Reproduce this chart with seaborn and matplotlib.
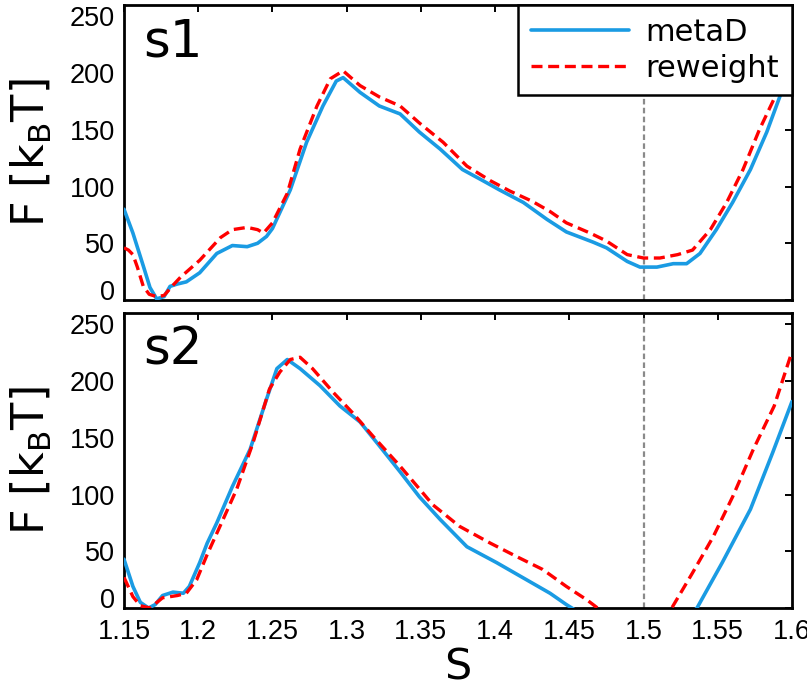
import numpy as np
import pandas as pd
import matplotlib
matplotlib.use("Agg")
import matplotlib.pyplot as plt
import seaborn as sns

# s1 panel: metaD and reweight free-energy profiles
s1_meta_x = [1.150, 1.156, 1.163, 1.1675, 1.172, 1.177, 1.181, 1.1857, 1.192, 1.201,
             1.2125, 1.223, 1.233, 1.240, 1.246, 1.250, 1.262, 1.273, 1.284, 1.293,
             1.2976, 1.309, 1.322, 1.336, 1.349, 1.363, 1.378, 1.392, 1.403, 1.419,
             1.435, 1.448, 1.466, 1.475, 1.489, 1.4976, 1.509, 1.520, 1.529, 1.538,
             1.549, 1.560, 1.572, 1.583, 1.592, 1.600]
s1_meta_F = [80, 59, 30, 11, 1, 3, 12, 14, 16, 24,
             41, 48, 47, 50, 56, 63, 97, 139, 171, 193,
             196, 183, 171, 164, 148, 133, 115, 105, 97, 86,
             71, 60, 51, 46, 34, 29, 29, 32, 32, 41,
             62, 86, 115, 148, 180, 205]

s1_rew_x = [1.150, 1.153, 1.156, 1.159, 1.163, 1.167, 1.172, 1.177, 1.183, 1.188,
            1.201, 1.215, 1.223, 1.233, 1.240, 1.244, 1.250, 1.260, 1.2686, 1.280,
            1.289, 1.2976, 1.309, 1.322, 1.336, 1.349, 1.365, 1.381, 1.397, 1.410,
            1.425, 1.437, 1.448, 1.464, 1.475, 1.489, 1.500, 1.511, 1.523, 1.533,
            1.545, 1.556, 1.567, 1.578, 1.590, 1.600]
s1_rew_F = [46, 44, 40, 29, 12, 5, 3, 4, 13, 20,
            35, 55, 62, 64, 62, 59, 68, 94, 133, 171,
            195, 202, 189, 179, 171, 156, 139, 118, 105, 96,
            87, 78, 68, 59, 52, 40, 37, 37, 40, 44,
            62, 86, 115, 150, 183, 210]

# s2 panel
s2_meta_x = [1.150, 1.156, 1.161, 1.1665, 1.171, 1.176, 1.183, 1.190, 1.194, 1.201,
             1.206, 1.2125, 1.223, 1.235, 1.246, 1.253, 1.260, 1.2686, 1.282, 1.2955,
             1.309, 1.322, 1.336, 1.349, 1.363, 1.381, 1.401, 1.421, 1.437, 1.448,
             1.470, 1.500, 1.520, 1.536, 1.553, 1.572, 1.587, 1.600]
s2_meta_F = [43, 19, 5, 0, 3, 11, 14, 13, 19, 40,
             57, 75, 107, 140, 184, 211, 219, 211, 196, 178,
             164, 143, 120, 98, 78, 54, 40, 25, 13, 3,
             -15, -30, -20, 0, 40, 87, 137, 182]

s2_rew_x = [1.150, 1.156, 1.161, 1.1675, 1.176, 1.186, 1.192, 1.199, 1.206, 1.215,
            1.226, 1.237, 1.248, 1.255, 1.262, 1.2686, 1.277, 1.291, 1.304, 1.318,
            1.336, 1.349, 1.358, 1.376, 1.397, 1.415, 1.432, 1.448, 1.462, 1.469,
            1.490, 1.510, 1.519, 1.533, 1.547, 1.560, 1.574, 1.588, 1.600]
s2_rew_F = [27, 10, 2, 0, 9, 11, 13, 25, 47, 73,
            105, 146, 193, 208, 219, 221, 211, 190, 172, 151,
            125, 105, 91, 72, 57, 45, 34, 19, 7, 0,
            -20, -10, 0, 31, 63, 98, 140, 178, 226]

panels = [("s1", s1_meta_x, s1_meta_F, s1_rew_x, s1_rew_F),
          ("s2", s2_meta_x, s2_meta_F, s2_rew_x, s2_rew_F)]

x_ticks = [1.15, 1.2, 1.25, 1.3, 1.35, 1.4, 1.45, 1.5, 1.55, 1.6]
x_ticklabels = ["1.15", "1.2", "1.25", "1.3", "1.35", "1.4", "1.45", "1.5", "1.55", "1.6"]
y_ticks = [0, 50, 100, 150, 200, 250]
marker_x = 1.5

sns.set_style("white")
plt.rcParams["font.family"] = ["DejaVu Sans"]
plt.rcParams["mathtext.fontset"] = "dejavusans"
plt.rcParams["text.color"] = "black"
plt.rcParams["axes.labelcolor"] = "black"
plt.rcParams["xtick.color"] = "black"
plt.rcParams["ytick.color"] = "black"

W, H = 807, 689
fig = plt.figure(figsize=(W / 100, H / 100), dpi=100)
ax_top = fig.add_axes([124 / W, (H - 300) / H, 668 / W, 295 / H])
ax_bot = fig.add_axes([124 / W, (H - 608) / H, 668 / W, 295 / H])

blue = "#1a9be3"
red = "#ff0000"

for ax, (name, mx, mF, rx, rF) in zip([ax_top, ax_bot], panels):
    ax.axvline(marker_x, color="#8a8a8a", lw=1.6, linestyle=(0, (2.5, 1.5)), zorder=1)
    sns.lineplot(x=mx, y=mF, ax=ax, color=blue, lw=2.6, label="metaD", sort=False, zorder=3)
    sns.lineplot(x=rx, y=rF, ax=ax, color=red, lw=2.4, linestyle=(0, (3.3, 1.7)),
                 label="reweight", sort=False, zorder=4)
    ax.set_xlim(1.15, 1.6)
    ax.set_ylim(0, 260)
    ax.set_xticks(x_ticks)
    ax.set_yticks(y_ticks)
    ax.set_yticklabels([str(v) for v in y_ticks], family="Liberation Sans", fontsize=19.5)
    # the zero label sits a little above its tick, as in the original
    ax.get_yticklabels()[0].set_va("baseline")
    ax.tick_params(direction="in", length=5, width=1.4, top=True, right=True, pad=6.5)
    for s in ax.spines.values():
        s.set_linewidth(2.0)
        s.set_color("black")
    ax.set_ylabel(r"F [k$_\mathrm{B}$T]", fontsize=32)
    ax.yaxis.set_label_coords(-0.105, 0.5)
    ax.text(0.028, 0.824, name, transform=ax.transAxes, fontsize=37, va="baseline", ha="left")
    if ax.get_legend() is not None:
        ax.get_legend().remove()

ax_top.set_xticklabels([])
ax_bot.set_xticklabels(x_ticklabels, family="Liberation Sans", fontsize=19.5)
ax_bot.tick_params(axis="x", pad=8)
ax_bot.set_xlabel("S", fontsize=31, labelpad=1)

h, l = ax_top.get_legend_handles_labels()
leg = ax_top.legend(h, l, loc="upper right", bbox_to_anchor=(1.0, 1.0), borderaxespad=0,
                    fontsize=22, handlelength=3.2, handletextpad=0.55, labelspacing=0.22,
                    borderpad=0.42, fancybox=False, framealpha=1)
leg.get_frame().set_edgecolor("black")
leg.get_frame().set_linewidth(1.8)

fig.savefig("out.png", dpi=100)
